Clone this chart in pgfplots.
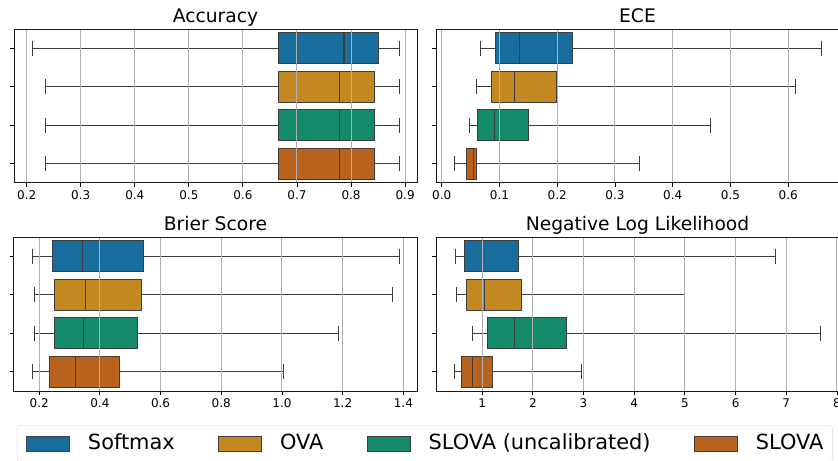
\documentclass[border=0pt]{standalone}
\usepackage{pgfplots}
\pgfplotsset{compat=1.18}
\usepgfplotslibrary{statistics}
\usepackage{fontspec}
\setmainfont{DejaVu Sans}
\definecolor{cSoft}{HTML}{176D9C}
\definecolor{cOVA}{HTML}{C3881F}
\definecolor{cSLu}{HTML}{158A6A}
\definecolor{cSL}{HTML}{BA611B}
\definecolor{edge}{HTML}{3D3D3D}
\definecolor{gridc}{HTML}{B0B0B0}
\pgfplotsset{
  panel/.style={
    scale only axis, width=403bp, height=154bp, anchor=south west,
    ymin=-0.5, ymax=3.5, y dir=reverse, ytick={0,1,2,3}, yticklabels={},
    xmajorgrids, grid style={gridc, line width=1bp},
    axis on top, tick align=outside, xtick pos=bottom, ytick pos=left,
    major tick length=4bp, tick style={black, line width=0.9bp},
    axis line style={black!90, line width=1bp},
    tick label style={font=\fontsize{12bp}{14bp}\selectfont},
    /pgf/number format/assume math mode=true,
    title style={font=\fontsize{18.7bp}{22bp}\selectfont, anchor=base, yshift=1bp},
    boxplot/box extend=0.8, boxplot/whisker extend=0.4,
  },
  bx/.style={draw=edge, line width=1.1bp, solid},
}
\begin{document}
\begin{tikzpicture}
% Accuracy
\begin{axis}[panel, at={(14bp,278bp)}, title={Accuracy},
  xmin=0.1765, xmax=0.922, xtick={0.2,0.3,0.4,0.5,0.6,0.7,0.8,0.9},
  xticklabel style={/pgf/number format/.cd, fixed, fixed zerofill, precision=1}]
\addplot[bx, fill=cSoft, boxplot prepared={draw position=0, lower whisker=0.2105, lower quartile=0.665, median=0.787, upper quartile=0.850, upper whisker=0.890}] coordinates {};
\addplot[bx, fill=cOVA, boxplot prepared={draw position=1, lower whisker=0.235, lower quartile=0.666, median=0.779, upper quartile=0.844, upper whisker=0.890}] coordinates {};
\addplot[bx, fill=cSLu, boxplot prepared={draw position=2, lower whisker=0.235, lower quartile=0.666, median=0.779, upper quartile=0.844, upper whisker=0.890}] coordinates {};
\addplot[bx, fill=cSL, boxplot prepared={draw position=3, lower whisker=0.235, lower quartile=0.666, median=0.779, upper quartile=0.844, upper whisker=0.890}] coordinates {};
\end{axis}
% ECE
\begin{axis}[panel, at={(436bp,278bp)}, title={ECE},
  xmin=-0.0099, xmax=0.688, xtick={0,0.1,0.2,0.3,0.4,0.5,0.6},
  xticklabel style={/pgf/number format/.cd, fixed, fixed zerofill, precision=1}]
\addplot[bx, fill=cSoft, boxplot prepared={draw position=0, lower whisker=0.0675, lower quartile=0.093, median=0.135, upper quartile=0.227, upper whisker=0.658}] coordinates {};
\addplot[bx, fill=cOVA, boxplot prepared={draw position=1, lower whisker=0.0606, lower quartile=0.086, median=0.126, upper quartile=0.199, upper whisker=0.613}] coordinates {};
\addplot[bx, fill=cSLu, boxplot prepared={draw position=2, lower whisker=0.048, lower quartile=0.062, median=0.092, upper quartile=0.150, upper whisker=0.466}] coordinates {};
\addplot[bx, fill=cSL, boxplot prepared={draw position=3, lower whisker=0.0225, lower quartile=0.0427, median=0.0554, upper quartile=0.0606, upper whisker=0.342}] coordinates {};
\end{axis}
% Brier
\begin{axis}[panel, at={(14bp,70bp)}, title={Brier Score},
  xmin=0.117, xmax=1.445, xtick={0.2,0.4,0.6,0.8,1.0,1.2,1.4},
  xticklabel style={/pgf/number format/.cd, fixed, fixed zerofill, precision=1},
  legend columns=4,
  legend image code/.code={\draw[#1, sharp corners, line width=0.8bp] (0bp,-7.5bp) rectangle (43bp,7.5bp);},
  legend style={at={(0.0074,-0.2208)}, anchor=north west, draw=black!15, rounded corners=3bp,
    font=\fontsize{20.9bp}{24bp}\selectfont, inner xsep=9bp, inner ysep=7bp,
    nodes={inner xsep=0bp, inner ysep=2bp, text height=15bp, text depth=4.5bp},
    /tikz/every odd column/.append style={column sep=18bp},
    /tikz/every even column/.append style={column sep=43.5bp}},
  ]
\addplot[bx, fill=cSoft, forget plot, boxplot prepared={draw position=0, lower whisker=0.177, lower quartile=0.243, median=0.344, upper quartile=0.545, upper whisker=1.387}] coordinates {};
\addplot[bx, fill=cOVA, forget plot, boxplot prepared={draw position=1, lower whisker=0.1835, lower quartile=0.2505, median=0.354, upper quartile=0.537, upper whisker=1.363}] coordinates {};
\addplot[bx, fill=cSLu, forget plot, boxplot prepared={draw position=2, lower whisker=0.186, lower quartile=0.250, median=0.347, upper quartile=0.524, upper whisker=1.186}] coordinates {};
\addplot[bx, fill=cSL, forget plot, boxplot prepared={draw position=3, lower whisker=0.177, lower quartile=0.234, median=0.320, upper quartile=0.465, upper whisker=1.005}] coordinates {};
\addlegendimage{draw=edge, fill=cSoft}\addlegendentry{Softmax}
\addlegendimage{draw=edge, fill=cOVA}\addlegendentry{OVA}
\addlegendimage{draw=edge, fill=cSLu}\addlegendentry{SLOVA (uncalibrated)}
\addlegendimage{draw=edge, fill=cSL}\addlegendentry{SLOVA}
\end{axis}
% NLL
\begin{axis}[panel, at={(436bp,70bp)}, title={Negative Log Likelihood},
  xmin=0.09, xmax=8.04, xtick={1,2,3,4,5,6,7,8}]
\addplot[bx, fill=cSoft, boxplot prepared={draw position=0, lower whisker=0.483, lower quartile=0.660, median=1.000, upper quartile=1.720, upper whisker=6.780}] coordinates {};
\addplot[bx, fill=cOVA, boxplot prepared={draw position=1, lower whisker=0.490, lower quartile=0.686, median=1.040, upper quartile=1.780, upper whisker=5.000}] coordinates {};
\addplot[bx, fill=cSLu, boxplot prepared={draw position=2, lower whisker=0.810, lower quartile=1.105, median=1.640, upper quartile=2.657, upper whisker=7.670}] coordinates {};
\addplot[bx, fill=cSL, boxplot prepared={draw position=3, lower whisker=0.456, lower quartile=0.587, median=0.810, upper quartile=1.203, upper whisker=2.965}] coordinates {};
\end{axis}
\pgfresetboundingbox
\useasboundingbox (0bp,0bp) rectangle (838bp,461bp);
\end{tikzpicture}
\end{document}
